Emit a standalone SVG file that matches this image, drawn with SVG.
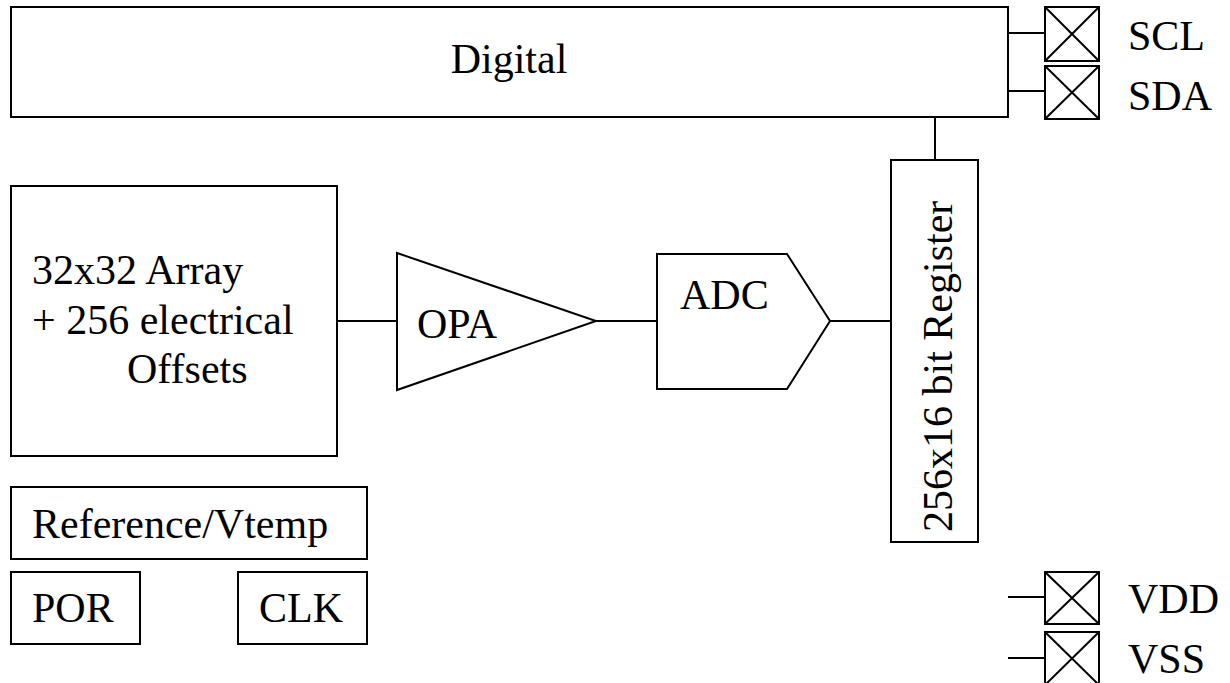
<svg xmlns="http://www.w3.org/2000/svg" width="1230" height="683" viewBox="0 0 1230 683">
<style>
.b{fill:#fff;stroke:#000;stroke-width:2}
.l{stroke:#000;stroke-width:2;fill:none}
.t{font-family:"Liberation Serif","Times New Roman",serif;font-size:42px;fill:#000}
</style>
<rect width="1230" height="683" fill="#fff"/>
<g id="connectors" class="l">
<line x1="1008" y1="33" x2="1045" y2="33"/>
<line x1="1008" y1="91" x2="1045" y2="91"/>
<line x1="935" y1="117" x2="935" y2="160"/>
<line x1="337" y1="321" x2="397" y2="321"/>
<line x1="596" y1="321" x2="657" y2="321"/>
<line x1="830" y1="321" x2="891" y2="321"/>
<line x1="1008" y1="597" x2="1045" y2="597"/>
<line x1="1008" y1="658" x2="1045" y2="658"/>
</g>
<g id="digital">
<rect class="b" x="11" y="7" width="997" height="110"/>
<text class="t" x="509" y="73" text-anchor="middle">Digital</text>
</g>
<g id="array">
<rect class="b" x="11" y="186" width="326" height="270"/>
<text class="t" x="32" y="284">32x32 Array</text>
<text class="t" x="32" y="334">+ 256 electrical</text>
<text class="t" x="127" y="383">Offsets</text>
</g>
<g id="opa">
<polygon class="b" points="397,253 596,321 397,390"/>
<text class="t" x="417" y="338">OPA</text>
</g>
<g id="adc">
<polygon class="b" points="657,254 787,254 830,321 787,389 657,389"/>
<text class="t" x="680" y="309">ADC</text>
</g>
<g id="register">
<rect class="b" x="891" y="160" width="87" height="382"/>
<text class="t" transform="translate(952,532) rotate(-90)" x="0" y="0">256x16 bit Register</text>
</g>
<g id="reference">
<rect class="b" x="11" y="487" width="356" height="72"/>
<text class="t" x="32" y="538">Reference/Vtemp</text>
</g>
<g id="por">
<rect class="b" x="11" y="572" width="129" height="72"/>
<text class="t" x="32" y="622">POR</text>
</g>
<g id="clk">
<rect class="b" x="238" y="572" width="129" height="72"/>
<text class="t" x="259" y="622">CLK</text>
</g>
<g id="pad-scl">
<rect class="b" x="1045" y="7" width="54" height="54"/>
<path class="l" d="M1045,7 L1099,61 M1099,7 L1045,61"/>
<text class="t" x="1128" y="50">SCL</text>
</g>
<g id="pad-sda">
<rect class="b" x="1045" y="66" width="54" height="53"/>
<path class="l" d="M1045,66 L1099,119 M1099,66 L1045,119"/>
<text class="t" x="1128" y="110">SDA</text>
</g>
<g id="pad-vdd">
<rect class="b" x="1045" y="572" width="54" height="52"/>
<path class="l" d="M1045,572 L1099,624 M1099,572 L1045,624"/>
<text class="t" x="1128" y="613">VDD</text>
</g>
<g id="pad-vss">
<rect class="b" x="1045" y="632" width="54" height="53"/>
<path class="l" d="M1045,632 L1099,685 M1099,632 L1045,685"/>
<text class="t" x="1128" y="673">VSS</text>
</g>
</svg>
